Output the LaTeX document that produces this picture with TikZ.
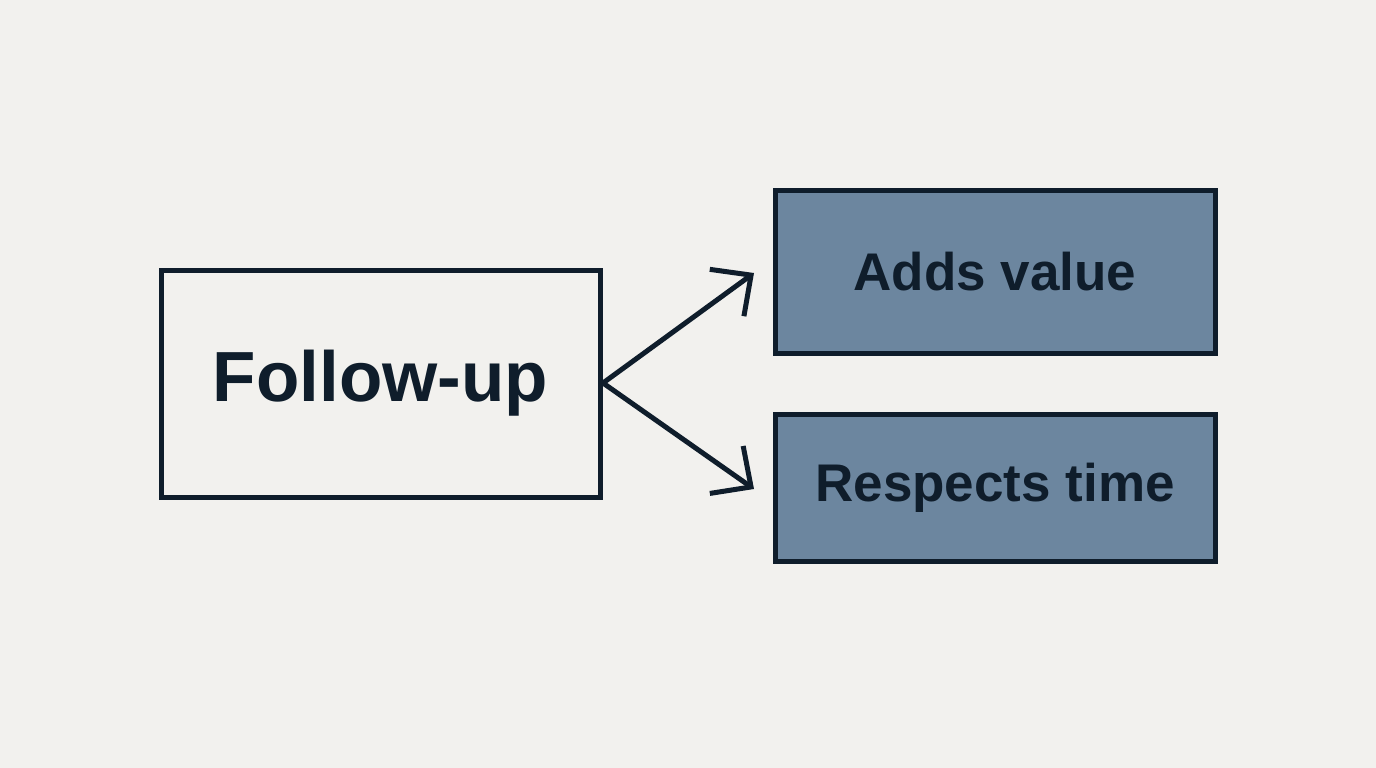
\documentclass[tikz,border=0pt]{standalone}
\usepackage{fontspec}
\setmainfont{Liberation Sans}
\usetikzlibrary{arrows.meta}
\definecolor{bg}{HTML}{F2F1EE}
\definecolor{ink}{HTML}{0F1D2B}
\definecolor{boxfill}{HTML}{6C869F}
\begin{document}
\begin{tikzpicture}[x=1pt,y=-1pt,
  mainbox/.style={draw=ink, line width=5pt, fill=bg, minimum width=439pt, minimum height=227pt, inner sep=0pt, font=\fontsize{71}{82}\selectfont\bfseries, text=ink},
  sidebox/.style={draw=ink, line width=5pt, fill=boxfill, minimum width=440pt, inner sep=0pt, font=\fontsize{53}{62}\selectfont\bfseries, text=ink},
  conn/.style={draw=ink, line width=5pt, -{Straight Barb[length=30pt, width=58pt, line width=5pt]}}]
\useasboundingbox (0,0) rectangle (1376,768);
\fill[bg] (0,0) rectangle (1376,768);
\node[mainbox] (f) at (380.5,383.5) {Follow-up};
\node[sidebox, minimum height=163pt] (a) at (995,271.5) {Adds value};
\node[sidebox, minimum height=147pt] (r) at (995,487.5) {Respects time};
\coordinate (s) at (603,383);
\coordinate (ta) at (754,273);
\coordinate (tr) at (754,489);
\draw[conn] (s) -- (ta);
\draw[conn] (s) -- (tr);
\end{tikzpicture}
\end{document}
